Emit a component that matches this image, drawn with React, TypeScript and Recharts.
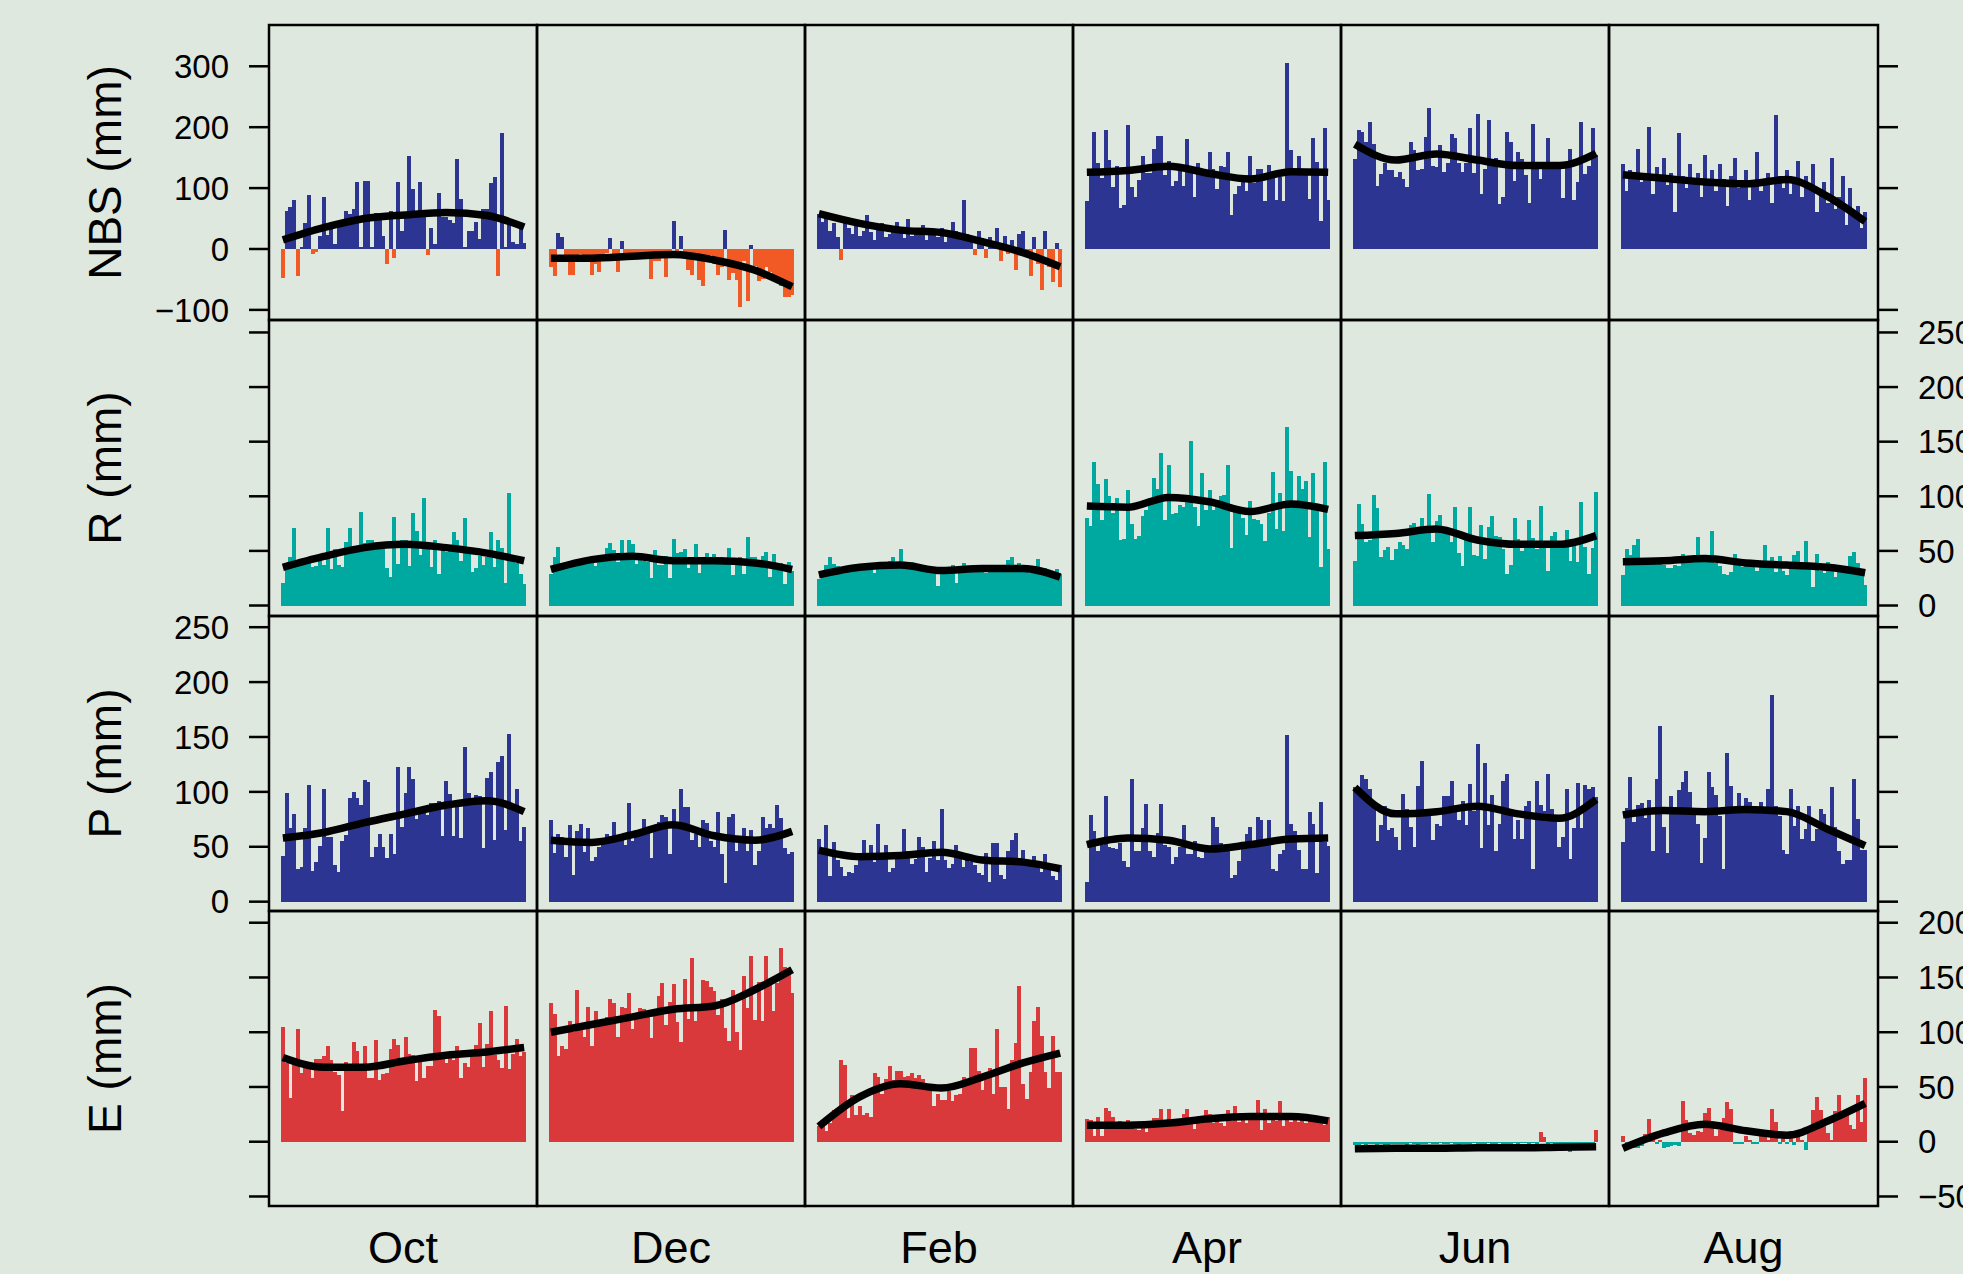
import React from 'react';
import { ComposedChart, Bar, Line, XAxis, YAxis, Cell } from 'recharts';

const months = ['Oct', 'Dec', 'Feb', 'Apr', 'Jun', 'Aug'];
// positions (bar index) of the smoothed-curve knots in every panel
const fitIndex = [0, 11, 22, 33, 44, 55, 65];

// NBS (mm)
const nbsOct = [-47, 63, 69, 81, -45, 4, 43, 89, -9, -5, 21, 86, 23, 36, 8, 36, 37, 63, 57, 66, 110, 4, 112, 112, 4, 59, 48, 21, -25, 63, -14, 110, 30, 59, 153, 99, 59, 110, 53, -10, 34, 8, 92, 53, 53, 48, 42, 147, 82, 4, 30, 30, 45, 16, 66, 66, 108, 119, -44, 190, 4, 49, 12, 9, 35, 10];
const nbsDec = [-29, -44, 27, 20, -10, -42, -42, -10, -8, -12, -10, -42, -25, -38, -8, -6, 18, -10, -37, 13, -8, -10, -8, -9, -7, -12, -8, -49, -20, -20, -13, -46, -8, 46, -8, 21, -10, -35, -42, -15, -51, -60, -20, -10, -25, -42, -30, 31, -51, -40, -51, -96, -20, -85, 7, -28, -53, -50, -30, -37, -45, -53, -60, -79, -79, -75];
const nbsFeb = [58, 45, 60, 30, 42, 20, -18, 48, 35, 25, 40, 22, 30, 55, 28, 15, 35, 42, 20, 25, 38, 45, 30, 18, 50, 22, 35, 28, 40, 15, 25, 30, 20, 35, 12, 28, 45, 30, 22, 80, 25, 15, -10, 30, 18, -15, 20, 10, 35, -20, 22, -8, 15, -35, 25, 30, -12, -45, 20, -25, -68, 30, -30, -55, 10, -62];
const nbsApr = [78, 121, 192, 142, 116, 196, 146, 101, 137, 68, 73, 204, 102, 86, 114, 152, 125, 125, 165, 186, 186, 121, 145, 104, 112, 137, 103, 181, 134, 85, 142, 128, 125, 159, 132, 99, 136, 134, 159, 55, 91, 104, 118, 96, 152, 109, 132, 132, 78, 138, 121, 80, 118, 78, 305, 163, 132, 153, 132, 132, 82, 183, 143, 46, 199, 81];
const nbsJun = [147, 196, 192, 175, 208, 173, 103, 123, 142, 129, 130, 119, 126, 115, 101, 175, 162, 129, 132, 184, 232, 137, 135, 171, 127, 142, 188, 183, 141, 127, 142, 199, 124, 221, 90, 132, 211, 148, 150, 74, 85, 192, 176, 111, 159, 147, 121, 75, 206, 135, 115, 141, 183, 140, 142, 138, 84, 142, 165, 80, 110, 209, 123, 137, 198, 154];
const nbsAug = [140, 95, 130, 120, 165, 110, 125, 200, 90, 135, 115, 150, 105, 125, 60, 190, 120, 100, 140, 110, 125, 85, 155, 105, 130, 95, 140, 115, 70, 120, 150, 100, 105, 130, 80, 110, 160, 95, 115, 125, 75, 220, 120, 100, 130, 90, 110, 145, 85, 120, 100, 140, 60, 95, 110, 75, 150, 65, 85, 120, 40, 100, 55, 70, 35, 60];
const nbsOctFit = [15, 35, 50, 56, 60, 55, 36];
const nbsDecFit = [-15, -15, -12, -9, -18, -35, -62];
const nbsFebFit = [58, 42, 31, 27, 12, -6, -29];
const nbsAprFit = [126, 129, 136, 124, 115, 127, 126];
const nbsJunFit = [172, 146, 156, 146, 137, 137, 157];
const nbsAugFit = [122, 116, 110, 107, 114, 86, 45];

// R (mm)
const rOct = [21, 34, 44, 71, 37, 38, 40, 40, 35, 36, 42, 37, 71, 33, 52, 37, 35, 58, 71, 52, 52, 86, 57, 60, 60, 55, 52, 52, 34, 26, 81, 38, 60, 60, 36, 85, 68, 46, 98, 52, 35, 60, 29, 52, 49, 50, 67, 60, 41, 80, 48, 31, 34, 45, 37, 44, 67, 35, 60, 53, 21, 103, 43, 39, 29, 20];
const rDec = [29, 44, 54, 38, 39, 40, 41, 40, 42, 43, 40, 44, 36, 45, 46, 53, 57, 51, 40, 60, 43, 60, 56, 38, 43, 41, 40, 25, 51, 37, 37, 45, 25, 61, 48, 49, 52, 34, 44, 56, 30, 44, 48, 43, 47, 41, 44, 41, 53, 28, 43, 44, 29, 63, 44, 44, 40, 45, 49, 26, 47, 35, 39, 20, 40, 32];
const rFeb = [24, 32, 37, 44, 38, 36, 34, 33, 35, 32, 33, 34, 36, 33, 35, 30, 34, 36, 35, 41, 44, 36, 52, 33, 35, 40, 34, 36, 35, 32, 33, 34, 18, 32, 34, 30, 37, 21, 36, 39, 33, 35, 33, 36, 34, 30, 35, 34, 33, 35, 36, 42, 44, 31, 39, 33, 37, 30, 36, 43, 32, 34, 30, 31, 33, 29];
const rApr = [80, 73, 131, 111, 78, 116, 100, 85, 98, 60, 61, 106, 75, 61, 64, 82, 87, 98, 117, 107, 140, 78, 129, 84, 85, 92, 90, 95, 151, 90, 73, 121, 87, 106, 87, 97, 100, 101, 129, 53, 89, 88, 80, 65, 96, 79, 78, 75, 59, 85, 122, 70, 103, 68, 163, 123, 92, 119, 107, 114, 63, 121, 93, 35, 131, 52];
const rJun = [41, 93, 75, 58, 60, 101, 89, 44, 51, 54, 42, 52, 58, 55, 52, 74, 76, 70, 80, 71, 102, 58, 77, 83, 67, 66, 58, 90, 48, 36, 61, 90, 46, 45, 74, 43, 72, 82, 64, 63, 52, 29, 37, 80, 61, 50, 56, 78, 62, 52, 91, 55, 32, 64, 67, 55, 54, 69, 41, 60, 40, 95, 54, 29, 53, 104];
const rAug = [28, 52, 46, 55, 61, 38, 40, 41, 42, 40, 39, 37, 34, 34, 37, 36, 47, 41, 45, 43, 63, 43, 40, 41, 68, 39, 36, 29, 28, 31, 47, 37, 35, 37, 36, 35, 32, 40, 55, 35, 44, 31, 45, 32, 28, 37, 46, 50, 37, 59, 34, 17, 47, 32, 30, 40, 38, 26, 31, 35, 32, 45, 49, 39, 28, 19];
const rOctFit = [35, 45, 53, 56, 53, 48, 41];
const rDecFit = [33, 42, 45, 41, 41, 39, 33];
const rFebFit = [28, 35, 37, 32, 34, 34, 26];
const rAprFit = [91, 90, 99, 95, 86, 93, 88];
const rJunFit = [64, 66, 70, 60, 56, 56, 64];
const rAugFit = [40, 41, 43, 39, 37, 35, 30];

// P (mm)
const pOct = [42, 99, 67, 80, 30, 32, 67, 106, 28, 36, 51, 103, 59, 59, 33, 27, 55, 61, 94, 100, 94, 88, 111, 109, 41, 50, 62, 50, 40, 62, 43, 123, 68, 99, 123, 112, 75, 82, 85, 79, 90, 90, 92, 60, 110, 98, 60, 87, 58, 141, 99, 94, 97, 96, 49, 113, 118, 56, 127, 133, 65, 153, 87, 103, 55, 68];
const pDec = [74, 44, 62, 59, 41, 70, 24, 64, 71, 45, 67, 37, 41, 50, 53, 62, 60, 73, 57, 58, 52, 90, 55, 59, 65, 75, 68, 40, 67, 73, 79, 77, 43, 84, 73, 103, 86, 86, 56, 62, 50, 74, 72, 55, 50, 82, 43, 17, 77, 80, 46, 56, 67, 46, 65, 33, 46, 77, 67, 71, 67, 88, 76, 49, 43, 45];
const pFeb = [57, 49, 70, 23, 54, 38, 32, 23, 27, 26, 33, 38, 56, 38, 52, 36, 71, 39, 52, 27, 31, 41, 45, 66, 46, 34, 39, 59, 50, 27, 40, 55, 38, 84, 38, 31, 34, 52, 40, 32, 38, 36, 33, 26, 24, 44, 18, 53, 53, 24, 21, 46, 56, 63, 33, 47, 38, 35, 42, 35, 27, 43, 32, 23, 20, 33];
const pApr = [18, 79, 64, 46, 52, 96, 50, 49, 48, 53, 37, 32, 112, 46, 46, 67, 89, 46, 41, 63, 89, 52, 50, 34, 41, 50, 70, 43, 43, 55, 41, 40, 46, 45, 77, 68, 53, 51, 46, 22, 24, 37, 51, 62, 68, 51, 77, 74, 54, 74, 30, 28, 43, 47, 152, 71, 64, 47, 30, 30, 82, 71, 26, 91, 54, 51];
const pJun = [104, 104, 115, 112, 103, 89, 55, 70, 87, 65, 67, 59, 47, 98, 84, 68, 50, 105, 128, 78, 80, 56, 71, 69, 96, 96, 110, 85, 74, 92, 70, 107, 83, 144, 49, 126, 70, 97, 46, 71, 110, 116, 84, 57, 74, 57, 87, 92, 30, 110, 88, 83, 116, 84, 74, 50, 59, 103, 39, 67, 108, 67, 106, 103, 104, 95];
const pAug = [54, 85, 114, 73, 88, 90, 76, 93, 46, 112, 160, 68, 44, 96, 81, 102, 109, 119, 100, 79, 71, 35, 58, 118, 104, 97, 78, 30, 135, 105, 82, 99, 82, 94, 91, 87, 85, 91, 81, 103, 188, 87, 78, 47, 43, 103, 69, 87, 57, 66, 87, 55, 66, 84, 80, 68, 104, 68, 46, 34, 38, 38, 112, 75, 47, 47];
const pOctFit = [58, 63, 72, 80, 88, 92, 82];
const pDecFit = [56, 54, 61, 70, 60, 56, 64];
const pFebFit = [47, 41, 42, 45, 38, 36, 30];
const pAprFit = [52, 58, 56, 48, 52, 57, 58];
const pJunFit = [104, 80, 82, 87, 80, 76, 93];
const pAugFit = [79, 83, 82, 84, 82, 66, 51];

// E (mm)
const eOct = [105, 72, 40, 75, 103, 63, 73, 70, 58, 76, 76, 78, 87, 75, 64, 61, 28, 73, 66, 91, 83, 68, 87, 58, 58, 93, 56, 62, 63, 85, 94, 88, 74, 96, 80, 79, 55, 77, 58, 69, 69, 120, 115, 76, 72, 77, 75, 87, 58, 72, 68, 80, 88, 108, 68, 89, 119, 79, 75, 67, 124, 66, 80, 94, 78, 82];
const eDec = [127, 117, 78, 87, 85, 110, 100, 139, 103, 96, 123, 87, 119, 111, 112, 114, 130, 127, 96, 123, 122, 136, 103, 115, 122, 121, 116, 95, 120, 133, 145, 107, 128, 144, 109, 91, 149, 112, 168, 110, 126, 148, 147, 141, 138, 116, 130, 104, 92, 139, 100, 84, 151, 122, 170, 111, 146, 110, 170, 146, 119, 145, 177, 160, 159, 136];
const eFeb = [14, 17, 10, 17, 29, 31, 75, 70, 22, 43, 24, 33, 24, 26, 23, 63, 59, 44, 57, 69, 56, 65, 65, 59, 60, 63, 58, 61, 57, 52, 51, 33, 44, 38, 38, 46, 37, 43, 44, 59, 55, 86, 86, 65, 47, 61, 67, 44, 103, 50, 50, 30, 75, 90, 142, 53, 39, 64, 110, 123, 97, 64, 49, 97, 64, 64];
const eApr = [21, 20, 5, 23, 5, 31, 28, 23, 12, 19, 15, 20, 14, 12, 11, 13, 9, 17, 22, 22, 30, 19, 30, 17, 14, 18, 25, 30, 17, 12, 19, 18, 29, 25, 17, 23, 17, 14, 29, 19, 33, 18, 23, 17, 20, 20, 38, 11, 30, 17, 20, 19, 37, 14, 20, 18, 24, 18, 24, 17, 23, 23, 20, 17, 15, 23];
const eJun = [-3, -3, -2, -3, -2, -2, -3, -2, -3, -3, -2, -2, -2, -2, -3, -1, -2, -3, -2, -2, -1, -2, -2, -1, -2, -2, -1, -2, -3, -2, -2, -2, -1, -2, -2, -2, -1, -2, -2, -1, -2, -3, -2, -1, -2, -1, -1, -2, -1, -2, 9, 4, -2, -1, -3, -6, -4, -2, -9, -3, -5, -6, -2, -4, -2, 11];
const eAug = [5, -3, -3, -6, -6, -4, 7, 21, 8, -2, 2, -6, -5, -4, -3, -4, 37, 20, 8, 6, 10, 9, 26, 31, 18, 5, 11, 22, 36, 30, -2, -2, -2, 5, 2, -2, -2, 5, 4, 2, 30, 18, -2, 3, -2, 10, -3, 8, 2, -8, 8, 29, 41, 29, 21, 8, 2, 28, 43, 23, 30, 15, 12, 43, 18, 58];
const eOctFit = [77, 68, 68, 74, 79, 82, 86];
const eDecFit = [100, 107, 114, 121, 124, 139, 157];
const eFebFit = [14, 41, 53, 49, 59, 72, 81];
const eAprFit = [15, 15, 17, 21, 23, 23, 19];
const eJunFit = [-6.5, -6, -6, -5.5, -5.5, -5, -4.5];
const eAugFit = [-6, 8, 16, 10, 6, 19, 35];

const NAVY = '#2d3592';
const ORANGE = '#f15a24';
const TEAL = '#00a9a0';
const RED = '#d9393b';
const BG = '#dfe8df';
const FONT = '"Liberation Sans", Arial, Helvetica, sans-serif';

const colX = [269, 537, 805, 1073, 1341, 1609, 1878];
const rowY = [25, 320, 616, 911, 1206];
const AXW = 120;

const rows = [
  {
    title: 'NBS (mm)',
    bars: [nbsOct, nbsDec, nbsFeb, nbsApr, nbsJun, nbsAug],
    fits: [nbsOctFit, nbsDecFit, nbsFebFit, nbsAprFit, nbsJunFit, nbsAugFit],
    domain: [-116.6, 367.8],
    ticks: [-100, 0, 100, 200, 300],
    pos: NAVY,
    neg: ORANGE,
    labelSide: 'left',
  },
  {
    title: 'R (mm)',
    bars: [rOct, rDec, rFeb, rApr, rJun, rAug],
    fits: [rOctFit, rDecFit, rFebFit, rAprFit, rJunFit, rAugFit],
    domain: [-9.6, 261.4],
    ticks: [0, 50, 100, 150, 200, 250],
    pos: TEAL,
    neg: TEAL,
    labelSide: 'right',
  },
  {
    title: 'P (mm)',
    bars: [pOct, pDec, pFeb, pApr, pJun, pAug],
    fits: [pOctFit, pDecFit, pFebFit, pAprFit, pJunFit, pAugFit],
    domain: [-8.5, 260.2],
    ticks: [0, 50, 100, 150, 200, 250],
    pos: NAVY,
    neg: NAVY,
    labelSide: 'left',
  },
  {
    title: 'E (mm)',
    bars: [eOct, eDec, eFeb, eApr, eJun, eAug],
    fits: [eOctFit, eDecFit, eFebFit, eAprFit, eJunFit, eAugFit],
    domain: [-58.7, 210.7],
    ticks: [-50, 0, 50, 100, 150, 200],
    pos: RED,
    neg: TEAL,
    labelSide: 'right',
  },
];

const fmt = (v: number) => (v < 0 ? `\u2212${Math.abs(v)}` : `${v}`);
const blank = () => '';

const Panel = ({ r, c }: { r: number; c: number }) => {
  const row = rows[r];
  const fits = row.fits[c];
  const data = row.bars[c].map((v, i) => {
    const k = fitIndex.indexOf(i);
    return { i, v, fit: k >= 0 ? fits[k] : null };
  });
  const hasLeft = c === 0;
  const hasRight = c === 5;
  const left = colX[c] - (hasLeft ? AXW : 0);
  const w = colX[c + 1] - colX[c] + (hasLeft || hasRight ? AXW : 0);
  const h = rowY[r + 1] - rowY[r];
  const showLabels = (hasLeft && row.labelSide === 'left') || (hasRight && row.labelSide === 'right');

  return (
    <div style={{ position: 'absolute', left, top: rowY[r], width: w, height: h }}>
      <ComposedChart
        width={w}
        height={h}
        data={data}
        margin={{ top: 0, right: 0, bottom: 0, left: 0 }}
        barCategoryGap={0}
        barGap={0}
      >
        <XAxis dataKey="i" hide padding={{ left: 12, right: 11 }} />
        <YAxis
          type="number"
          domain={row.domain}
          ticks={row.ticks}
          allowDataOverflow
          interval={0}
          hide={!hasLeft && !hasRight}
          orientation={hasRight ? 'right' : 'left'}
          width={AXW}
          axisLine={false}
          stroke="#000"
          tickSize={20}
          tickMargin={20}
          tickLine={{ stroke: '#000', strokeWidth: 2.5 }}
          tick={{ fill: '#000', fontSize: 33, fontFamily: FONT }}
          tickFormatter={showLabels ? fmt : blank}
        />
        <Bar dataKey="v" isAnimationActive={false} shapeRendering="crispEdges">
          {data.map((d) => (
            <Cell key={d.i} fill={d.v >= 0 ? row.pos : row.neg} />
          ))}
        </Bar>
        <Line
          dataKey="fit"
          type="monotone"
          connectNulls
          dot={false}
          activeDot={false}
          stroke="#000"
          strokeWidth={7.5}
          isAnimationActive={false}
        />
      </ComposedChart>
    </div>
  );
};

export default function App() {
  return (
    <div
      style={{
        position: 'absolute',
        left: 0,
        top: 0,
        width: 1963,
        height: 1274,
        overflow: 'hidden',
        background: BG,
        fontFamily: FONT,
      }}
    >
      <style>{'.recharts-surface{overflow:visible}'}</style>
      {rows.map((_, r) => months.map((m, c) => <Panel key={`${r}-${m}`} r={r} c={c} />))}
      <svg width={1963} height={1274} style={{ position: 'absolute', left: 0, top: 0, pointerEvents: 'none' }}>
        {rows.map((_, r) =>
          months.map((m, c) => (
            <rect
              key={`f${r}-${m}`}
              x={colX[c]}
              y={rowY[r]}
              width={colX[c + 1] - colX[c]}
              height={rowY[r + 1] - rowY[r]}
              fill="none"
              stroke="#000"
              strokeWidth={2.5}
            />
          ))
        )}
        {months.map((m, c) => (
          <text key={m} x={(colX[c] + colX[c + 1]) / 2} y={1263} textAnchor="middle" fontSize={45} fontFamily={FONT} fill="#000">
            {m}
          </text>
        ))}
        {rows.map((row, r) => {
          const cy = (rowY[r] + rowY[r + 1]) / 2;
          return (
            <text
              key={row.title}
              x={121}
              y={cy}
              transform={`rotate(-90 121 ${cy})`}
              textAnchor="middle"
              fontSize={46}
              fontFamily={FONT}
              fill="#000"
            >
              {row.title}
            </text>
          );
        })}
      </svg>
    </div>
  );
}
